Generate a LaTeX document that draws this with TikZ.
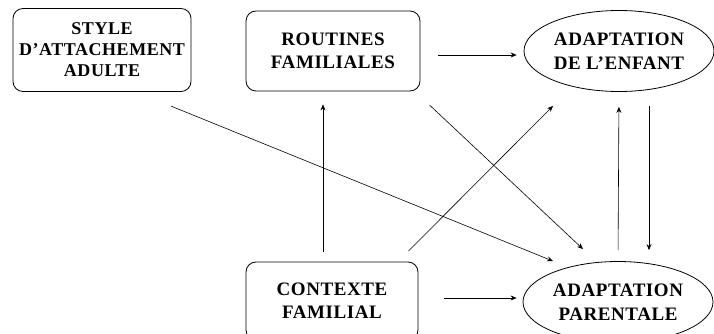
\documentclass[tikz,border=0pt]{standalone}
\usepackage{fontspec}
\setmainfont{Liberation Serif}
\usetikzlibrary{shapes.geometric,arrows.meta}

\tikzset{
	boite/.style = {draw, rounded corners=10pt, line width=0.8pt, align=center,
		minimum width=174pt, minimum height=80pt, inner sep=0pt,
		font=\fontsize{19}{23}\selectfont\bfseries\addfontfeature{LetterSpace=3}},
	bulle/.style = {draw, ellipse, line width=0.8pt, align=center,
		minimum width=190pt, minimum height=81pt, inner sep=0pt,
		font=\fontsize{19}{24}\selectfont\bfseries\addfontfeature{LetterSpace=3}},
	fleche/.style = {line width=0.6pt, -{Stealth[length=6pt,width=5pt]}}
}

\begin{document}
\begin{tikzpicture}[x=1pt, y=1pt]
	\useasboundingbox (0,0) rectangle (714,333);
	\node[boite, minimum width=178pt, minimum height=83pt,
		font=\fontsize{18}{21}\selectfont\bfseries\addfontfeature{LetterSpace=3}]
		(style) at (102,283) {STYLE\\D'ATTACHEMENT\\ADULTE};
	\node[boite] (routines) at (333,282) {ROUTINES\\FAMILIALES};
	\node[bulle] (enfant) at (619,282) {ADAPTATION\\DE L'ENFANT};
	\node[boite, minimum width=172pt, minimum height=78pt] (contexte) at (332,32) {CONTEXTE\\FAMILIAL};
	\node[bulle] (parent) at (618,31) {ADAPTATION\\PARENTALE};

	\draw[fleche, shorten <=18pt, shorten >=7pt] ([yshift=-4pt]routines.east) -- ([yshift=-4pt]enfant.west);
	\draw[fleche, shorten <=38pt] ([xshift=34pt]style.south) -- ([xshift=-65pt]parent.north);
	\draw[fleche, shorten <=20pt] ([xshift=82pt]routines.south) -- ([xshift=-35pt,yshift=12pt]parent.north);
	\draw[fleche, shorten <=15pt] ([xshift=66pt]contexte.north) -- ([xshift=-66pt,yshift=-14pt]enfant.south);
	\draw[fleche, shorten <=10pt, shorten >=13pt] ([xshift=-9pt]contexte.north) -- ([xshift=-10pt]routines.south);
	\draw[fleche, shorten <=11pt, shorten >=15pt] (parent.north) -- (enfant.south);
	\draw[fleche, shorten <=14pt, shorten >=11pt] ([xshift=30pt]enfant.south) -- ([xshift=31pt]parent.north);
	\draw[fleche, shorten <=26pt, shorten >=6pt] ([yshift=3pt]contexte.east) -- ([yshift=4pt]parent.west);
\end{tikzpicture}
\end{document}
